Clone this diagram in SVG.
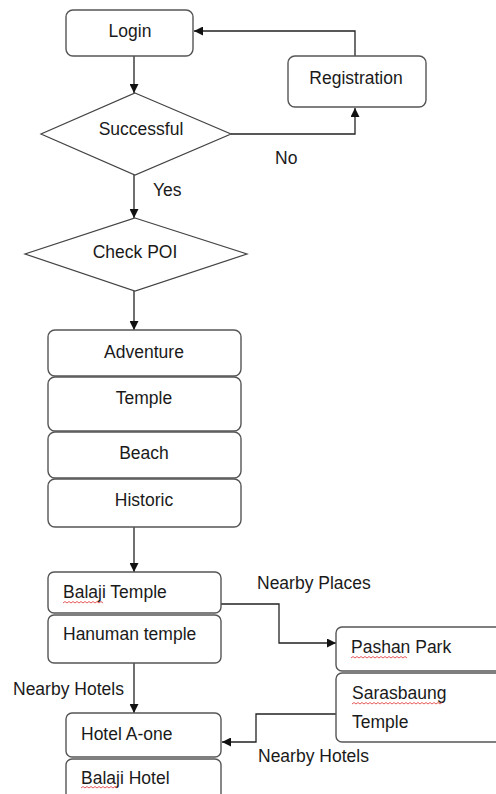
<svg xmlns="http://www.w3.org/2000/svg" width="496" height="794" viewBox="0 0 496 794">
<style>
.box{fill:#fff;stroke:#555;stroke-width:1.4}
.dia{fill:#fff;stroke:#444;stroke-width:1.2}
.t{font-family:"Liberation Sans",Arial,sans-serif;font-size:17.5px;fill:#1a1a1a}
.c{text-anchor:middle}
.ln{fill:none;stroke:#222;stroke-width:1.3}
.sq{fill:none;stroke:#e03030;stroke-width:0.8}
</style>
<defs>
<marker id="ah" viewBox="0 0 10 10" refX="10" refY="5" markerWidth="9" markerHeight="9" markerUnits="userSpaceOnUse" orient="auto">
<path d="M0,0 L10,5 L0,10 z" fill="#111"/>
</marker>
</defs>
<rect width="496" height="794" fill="#fff"/>
<g id="connectors">
<line class="ln" x1="134" y1="56" x2="134" y2="93" marker-end="url(#ah)"/>
<polyline class="ln" points="355,56 355,31 194,31" marker-end="url(#ah)"/>
<polyline class="ln" points="231,134 355,134 355,108" marker-end="url(#ah)"/>
<line class="ln" x1="134" y1="175" x2="134" y2="218" marker-end="url(#ah)"/>
<line class="ln" x1="134" y1="291" x2="134" y2="330" marker-end="url(#ah)"/>
<line class="ln" x1="134" y1="527" x2="134" y2="572" marker-end="url(#ah)"/>
<polyline class="ln" points="221,604 279,604 279,643 336,643" marker-end="url(#ah)"/>
<line class="ln" x1="134" y1="663" x2="134" y2="713" marker-end="url(#ah)"/>
<polyline class="ln" points="336,714 256,714 256,742 222,742" marker-end="url(#ah)"/>
<text class="t" x="275" y="164">No</text>
<text class="t" x="153" y="196">Yes</text>
<text class="t" x="257" y="589">Nearby Places</text>
<text class="t" x="13" y="695">Nearby Hotels</text>
<text class="t" x="258" y="762">Nearby Hotels</text>
</g>
<g id="login"><rect class="box" x="66" y="10" width="127" height="46" rx="7"/><text class="t c" x="130" y="37">Login</text></g>
<g id="registration"><rect class="box" x="288" y="56" width="138" height="51" rx="7"/><text class="t c" x="356" y="84">Registration</text></g>
<g id="successful"><polygon class="dia" points="135,93 231,134 135,175 41,134"/><text class="t c" x="141" y="135">Successful</text></g>
<g id="checkpoi"><polygon class="dia" points="135,218 247,254 135,291 25,254"/><text class="t c" x="135" y="258">Check POI</text></g>
<g id="adventure"><rect class="box" x="48" y="330" width="193" height="46" rx="7"/><text class="t c" x="144" y="358">Adventure</text></g>
<g id="temple"><rect class="box" x="48" y="377" width="193" height="54" rx="7"/><text class="t c" x="144" y="404">Temple</text></g>
<g id="beach"><rect class="box" x="48" y="432" width="193" height="46" rx="7"/><text class="t c" x="144" y="459">Beach</text></g>
<g id="historic"><rect class="box" x="48" y="479" width="193" height="48" rx="7"/><text class="t c" x="144" y="506">Historic</text></g>
<g id="balaji-temple"><rect class="box" x="48" y="572" width="173" height="41" rx="6"/><text class="t" x="63" y="598">Balaji Temple</text><path class="sq" d="M63,603 l2,-1.5 l2,1.5 l2,-1.5 l2,1.5 l2,-1.5 l2,1.5 l2,-1.5 l2,1.5 l2,-1.5 l2,1.5 l2,-1.5 l2,1.5 l2,-1.5 l2,1.5 l2,-1.5 l2,1.5 l2,-1.5 l2,1.5 l2,-1.5 l2,1.5"/></g>
<g id="hanuman-temple"><rect class="box" x="48" y="615" width="173" height="48" rx="6"/><text class="t" x="63" y="640">Hanuman temple</text></g>
<g id="pashan-park"><rect class="box" x="336" y="627" width="170" height="44" rx="6"/><text class="t" x="351" y="653">Pashan Park</text><path class="sq" d="M351,658 l2,-1.5 l2,1.5 l2,-1.5 l2,1.5 l2,-1.5 l2,1.5 l2,-1.5 l2,1.5 l2,-1.5 l2,1.5 l2,-1.5 l2,1.5 l2,-1.5 l2,1.5 l2,-1.5 l2,1.5 l2,-1.5 l2,1.5 l2,-1.5 l2,1.5 l2,-1.5 l2,1.5 l2,-1.5 l2,1.5 l2,-1.5 l2,1.5 l2,-1.5 l2,1.5"/></g>
<g id="sarasbaung-temple"><rect class="box" x="336" y="673" width="170" height="69" rx="6"/><text class="t" x="352" y="699">Sarasbaung</text><path class="sq" d="M352,704 l2,-1.5 l2,1.5 l2,-1.5 l2,1.5 l2,-1.5 l2,1.5 l2,-1.5 l2,1.5 l2,-1.5 l2,1.5 l2,-1.5 l2,1.5 l2,-1.5 l2,1.5 l2,-1.5 l2,1.5 l2,-1.5 l2,1.5 l2,-1.5 l2,1.5 l2,-1.5 l2,1.5 l2,-1.5 l2,1.5 l2,-1.5 l2,1.5 l2,-1.5 l2,1.5 l2,-1.5 l2,1.5 l2,-1.5 l2,1.5 l2,-1.5 l2,1.5 l2,-1.5 l2,1.5 l2,-1.5 l2,1.5 l2,-1.5 l2,1.5 l2,-1.5 l2,1.5 l2,-1.5 l2,1.5 l2,-1.5"/><text class="t" x="352" y="728">Temple</text></g>
<g id="hotel-a-one"><rect class="box" x="66" y="713" width="155" height="44" rx="6"/><text class="t" x="81" y="740">Hotel A-one</text></g>
<g id="balaji-hotel"><rect class="box" x="66" y="759" width="155" height="50" rx="6"/><text class="t" x="81" y="784">Balaji Hotel</text><path class="sq" d="M81,788 l2,-1.5 l2,1.5 l2,-1.5 l2,1.5 l2,-1.5 l2,1.5 l2,-1.5 l2,1.5 l2,-1.5 l2,1.5 l2,-1.5 l2,1.5 l2,-1.5 l2,1.5 l2,-1.5 l2,1.5 l2,-1.5 l2,1.5"/></g>
</svg>
